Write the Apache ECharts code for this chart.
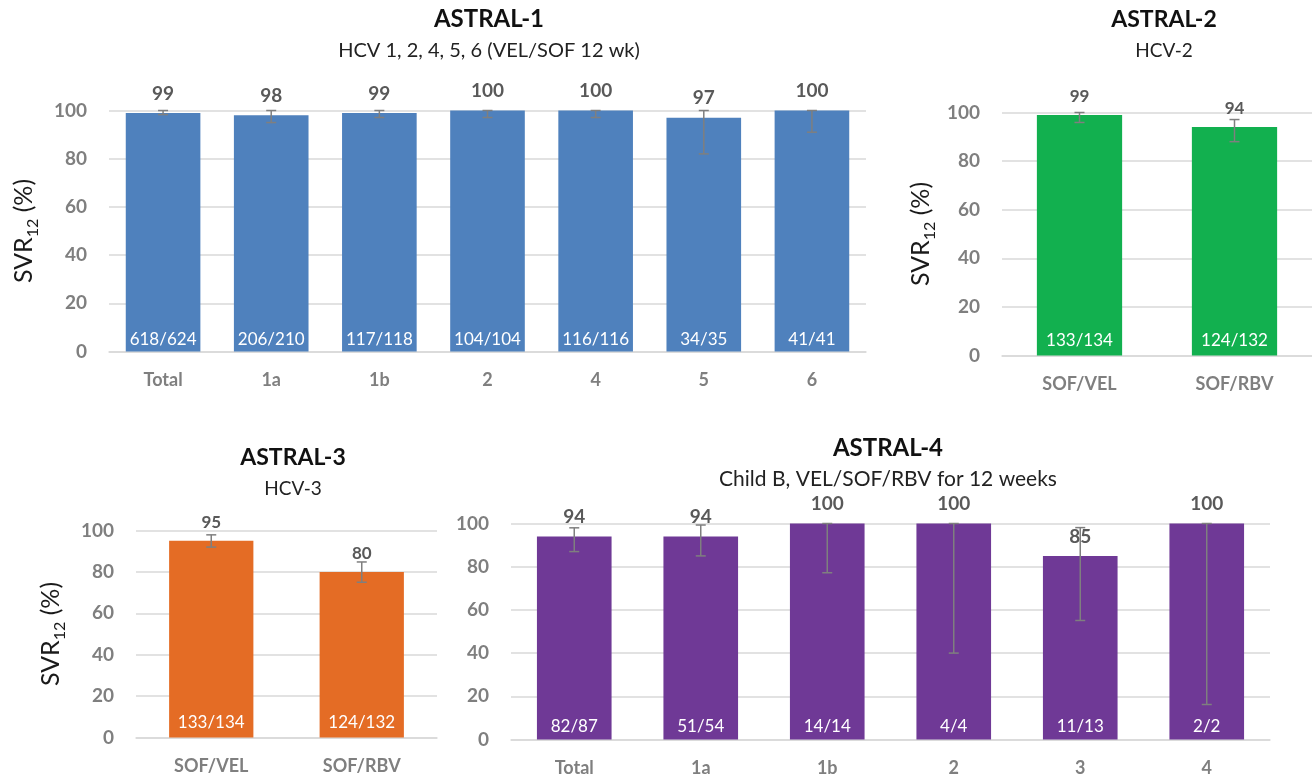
<!DOCTYPE html>
<html>
<head>
<meta charset="utf-8">
<script src="https://cdn.jsdelivr.net/npm/echarts@6/dist/echarts.min.js"></script>
<style>
  html, body { margin: 0; padding: 0; background: #ffffff; }
  #chart { width: 1312px; height: 780px; }
</style>
</head>
<body>
<div id="chart"></div>
<script>
// ASTRAL-1: HCV 1, 2, 4, 5, 6 (VEL/SOF 12 wk)
const a1Categories = ['Total', '1a', '1b', '2', '4', '5', '6'];
const a1Values = [99, 98, 99, 100, 100, 97, 100];
const a1Counts = ['618/624', '206/210', '117/118', '104/104', '116/116', '34/35', '41/41'];
const a1Low = [98.3, 95.0, 97.1, 97.1, 97.1, 82.0, 91.0];
const a1High = [100, 100, 100, 100, 100, 100, 100];

// ASTRAL-2: HCV-2
const a2Categories = ['SOF/VEL', 'SOF/RBV'];
const a2Values = [99, 94];
const a2Counts = ['133/134', '124/132'];
const a2Low = [95.9, 88.0];
const a2High = [100, 97.1];

// ASTRAL-3: HCV-3
const a3Categories = ['SOF/VEL', 'SOF/RBV'];
const a3Values = [95, 80];
const a3Counts = ['133/134', '124/132'];
const a3Low = [92.0, 75.0];
const a3High = [97.9, 84.8];

// ASTRAL-4: Child B, VEL/SOF/RBV for 12 weeks
const a4Categories = ['Total', '1a', '1b', '2', '3', '4'];
const a4Values = [94, 94, 100, 100, 85, 100];
const a4Counts = ['82/87', '51/54', '14/14', '4/4', '11/13', '2/2'];
const a4Low = [87.0, 85.0, 77.2, 40.0, 55.1, 16.2];
const a4High = [98.0, 99.3, 100, 100, 98.1, 100];

const yTicks = [0, 20, 40, 60, 80, 100];

const FONT = 'Lato, "DejaVu Sans", sans-serif';
const GRID_LINE = '#D9D9D9';
const AXIS_TEXT = '#7F7F7F';
const VALUE_TEXT = '#595959';
const ERR_COLOR = '#7F7F7F';

const panels = [
  { cats: a1Categories, vals: a1Values, counts: a1Counts, low: a1Low, high: a1High,
    color: '#4F81BD', grid: { left: 109, right: 446, top: 110.5, height: 241 },
    gap: '31%', countDist: 3, nameGap: 68, showName: true, valueSize: 19,
    title: 'ASTRAL-1', sub: 'HCV 1, 2, 4, 5, 6 (VEL/SOF 12 wk)',
    titleX: 489, titleTop: 7, titleGap: 8, titleSize: 24, subSize: 20 },
  { cats: a2Categories, vals: a2Values, counts: a2Counts, low: a2Low, high: a2High,
    color: '#12B04F', grid: { left: 1002, right: 0, top: 112.5, height: 243 },
    gap: '45%', countDist: 6, nameGap: 64, showName: true, valueSize: 17,
    title: 'ASTRAL-2', sub: 'HCV-2',
    titleX: 1164, titleTop: 8, titleGap: 9, titleSize: 23, subSize: 19 },
  { cats: a3Categories, vals: a3Values, counts: a3Counts, low: a3Low, high: a3High,
    color: '#E46C25', grid: { left: 136, right: 875, top: 530.5, height: 207 },
    gap: '44%', countDist: 6, nameGap: 68, showName: true, valueSize: 17,
    title: 'ASTRAL-3', sub: 'HCV-3',
    titleX: 293, titleTop: 446, titleGap: 9, titleSize: 23, subSize: 19 },
  { cats: a4Categories, vals: a4Values, counts: a4Counts, low: a4Low, high: a4High,
    color: '#6F3996', grid: { left: 511, right: 42, top: 523.5, height: 216 },
    gap: '41%', countDist: 4, nameGap: 68, showName: false, valueSize: 19,
    title: 'ASTRAL-4', sub: 'Child B, VEL/SOF/RBV for 12 weeks',
    titleX: 888, titleTop: 436, titleGap: 7, titleSize: 24, subSize: 21 }
];

function errorBarSeries(idx, low, high) {
  return {
    type: 'custom',
    xAxisIndex: idx,
    yAxisIndex: idx,
    z: 6,
    silent: true,
    data: low.map((l, i) => [i, l, high[i]]),
    encode: { x: 0, y: [1, 2] },
    renderItem: function (params, api) {
      const i = api.value(0);
      const lo = api.coord([i, api.value(1)]);
      const hi = api.coord([i, api.value(2)]);
      const hw = 5;
      const style = { stroke: ERR_COLOR, lineWidth: 1.5, fill: null };
      return {
        type: 'group',
        children: [
          { type: 'line', shape: { x1: lo[0], y1: lo[1], x2: hi[0], y2: hi[1] }, style: style },
          { type: 'line', shape: { x1: lo[0] - hw, y1: lo[1], x2: lo[0] + hw, y2: lo[1] }, style: style },
          { type: 'line', shape: { x1: hi[0] - hw, y1: hi[1], x2: hi[0] + hw, y2: hi[1] }, style: style }
        ]
      };
    }
  };
}

const grids = [], xAxes = [], yAxes = [], series = [], titles = [];

panels.forEach((p, idx) => {
  grids.push(Object.assign({ containLabel: false }, p.grid));

  xAxes.push({
    type: 'category',
    gridIndex: idx,
    data: p.cats,
    axisLine: { show: true, lineStyle: { color: GRID_LINE, width: 1.5 } },
    axisTick: { show: false },
    axisLabel: { color: AXIS_TEXT, fontFamily: FONT, fontWeight: 'bold', fontSize: 18, margin: 20 }
  });

  yAxes.push({
    type: 'value',
    gridIndex: idx,
    min: yTicks[0],
    max: yTicks[yTicks.length - 1],
    interval: yTicks[1] - yTicks[0],
    axisLine: { show: false },
    axisTick: { show: false },
    splitLine: { lineStyle: { color: GRID_LINE, width: 1.5 } },
    axisLabel: { color: AXIS_TEXT, fontFamily: FONT, fontWeight: 'bold', fontSize: 19, margin: 22 },
    name: p.showName ? '{a|SVR}{b|12}{a| (%)}' : '',
    nameLocation: 'middle',
    nameRotate: 90,
    nameGap: p.nameGap,
    nameTextStyle: {
      rich: {
        a: { fontFamily: FONT, fontSize: 25, color: '#1A1A1A', lineHeight: 34, verticalAlign: 'middle' },
        b: { fontFamily: FONT, fontSize: 16, color: '#1A1A1A', lineHeight: 16, verticalAlign: 'bottom' }
      }
    }
  });

  // bars with value labels on top
  series.push({
    type: 'bar',
    xAxisIndex: idx,
    yAxisIndex: idx,
    data: p.vals,
    barCategoryGap: p.gap,
    itemStyle: { color: p.color },
    z: 2,
    label: {
      show: true,
      position: 'top',
      distance: 10,
      color: VALUE_TEXT,
      fontFamily: FONT,
      fontWeight: 'bold',
      fontSize: p.valueSize
    }
  });

  // overlay carrying the n/N labels at the foot of each bar
  series.push({
    type: 'bar',
    xAxisIndex: idx,
    yAxisIndex: idx,
    data: p.vals,
    barGap: '-100%',
    barCategoryGap: p.gap,
    itemStyle: { color: 'rgba(0,0,0,0)' },
    silent: true,
    z: 3,
    label: {
      show: true,
      position: 'insideBottom',
      distance: p.countDist,
      color: '#FFFFFF',
      fontFamily: FONT,
      fontSize: 17,
      formatter: (q) => p.counts[q.dataIndex]
    }
  });

  series.push(errorBarSeries(idx, p.low, p.high));

  titles.push({
    text: p.title,
    subtext: p.sub,
    left: p.titleX,
    textAlign: 'center',
    top: p.titleTop,
    padding: 0,
    itemGap: p.titleGap,
    textStyle: { fontFamily: FONT, fontWeight: 'bold', fontSize: p.titleSize, color: '#111111', lineHeight: p.titleSize + 1 },
    subtextStyle: { fontFamily: FONT, fontSize: p.subSize, color: '#222222', lineHeight: p.subSize + 1 }
  });
});

const chart = echarts.init(document.getElementById('chart'), null, { renderer: 'canvas' });
chart.setOption({
  animation: false,
  backgroundColor: '#FFFFFF',
  title: titles,
  grid: grids,
  xAxis: xAxes,
  yAxis: yAxes,
  series: series
});
</script>
</body>
</html>
